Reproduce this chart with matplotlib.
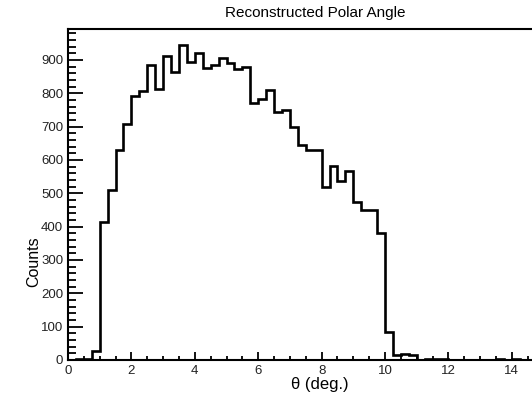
import matplotlib
matplotlib.use("Agg")
import matplotlib.pyplot as plt
import numpy as np
from matplotlib.ticker import MultipleLocator

plt.rcParams['font.family'] = ['Liberation Sans', 'DejaVu Sans']

bin_edges = np.arange(0, 15.0001, 0.25)
counts = [0, 3, 3, 27, 415, 510, 630, 708, 792, 807,
          885, 812, 912, 865, 945, 895, 922, 877, 885, 905,
          892, 872, 878, 770, 783, 810, 745, 750, 700, 645,
          630, 630, 520, 582, 538, 568, 475, 450, 450, 382,
          85, 15, 18, 15, 0, 2, 4, 3, 1, 0,
          0, 1, 0, 1, 3, 1, 2, 0, 0, 0]

title = "Reconstructed Polar Angle"
xlabel = "θ (deg.)"
ylabel = "Counts"

W, H = 532, 400
fig = plt.figure(figsize=(W/100, H/100), dpi=100)
left, right, top, bottom = 68, 543.5, 29, 360
ax = fig.add_axes([left/W, 1-bottom/H, (right-left)/W, (bottom-top)/H])

ax.stairs(counts, bin_edges, color='black', lw=1.9)
ax.set_xlim(0, 15)
ax.set_ylim(0, 993)

for s in ax.spines.values():
    s.set_linewidth(1.5)

ax.xaxis.set_major_locator(MultipleLocator(2))
ax.xaxis.set_minor_locator(MultipleLocator(0.5))
ax.yaxis.set_major_locator(MultipleLocator(100))
ax.yaxis.set_minor_locator(MultipleLocator(20))
ax.tick_params(axis='x', which='major', direction='in', length=6, width=1.3,
               labelsize=9.5, pad=3.5, top=False, labelcolor='#222222')
ax.tick_params(axis='x', which='minor', direction='in', length=3, width=1.3, top=False)
ax.tick_params(axis='y', which='major', direction='in', length=11, width=1.3,
               labelsize=9.5, pad=3.5, right=False, labelcolor='#222222')
ax.tick_params(axis='y', which='minor', direction='in', length=5.5, width=1.3, right=False)
ax.set_yticks(np.arange(0, 901, 100))

fig.text(315/W, 1-13/H, title, ha='center', va='center', fontsize=11)
fig.text(320/W, 1-384/H, xlabel, ha='center', va='center', fontsize=12)
fig.text(34/W, 1-262/H, ylabel, ha='center', va='center', rotation=90, fontsize=11.5)

fig.savefig("out.png", dpi=100)
